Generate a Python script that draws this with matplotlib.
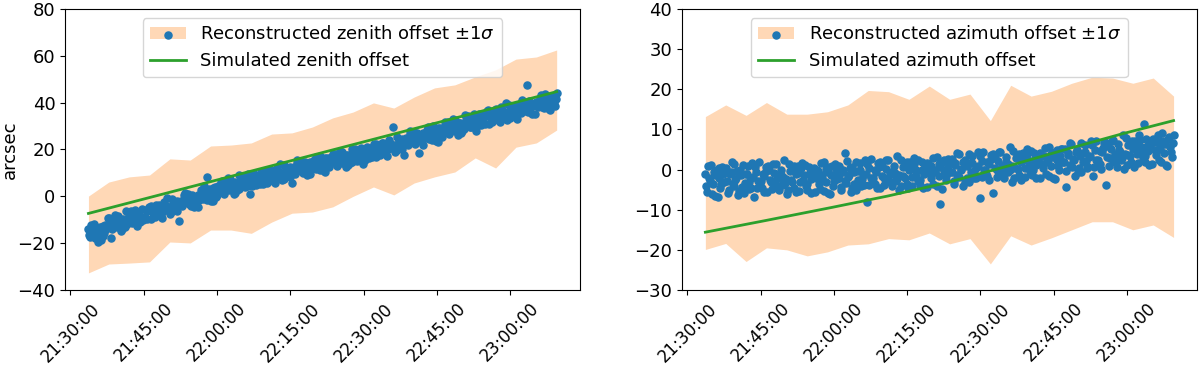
import numpy as np
import pandas as pd
import matplotlib
matplotlib.use('Agg')
import matplotlib.pyplot as plt
import matplotlib.dates as mdates

# observation window (same for both panels); two interleaved sets of exposures
t_start_a, t_end_a = '2019-01-01 21:33:42', '2019-01-01 23:09:32'
t_start_b, t_end_b = '2019-01-01 21:33:54', '2019-01-01 23:09:20'
n_pts = 250

# reconstructed zenith offset (arcsec), set a
zen_rec_a = [
    -13.8, -17.5, -14.6, -11.9, -16.0, -19.6, -13.0, -14.7, -16.8, -12.3,
    -12.1, -9.3, -18.0, -10.6, -8.0, -13.0, -11.7, -9.8, -14.1, -10.7,
    -6.1, -9.9, -7.9, -11.2, -8.9, -5.7, -12.8, -7.5, -9.4, -10.3,
    -8.7, -6.2, -4.4, -9.7, -5.0, -7.5, -3.8, -7.9, -6.6, -9.2,
    -3.7, -5.8, -0.6, -4.5, -6.9, -2.8, -5.0, -1.9, -10.5, -3.2,
    -4.3, 0.4, -2.0, 1.1, -2.9, -0.8, -4.7, -0.2, 0.6, -1.6,
    2.7, -1.0, 1.9, 8.3, 0.5, -1.9, 3.5, 1.8, -0.3, 4.2,
    3.6, 6.4, 1.2, 5.1, 7.7, 2.7, 4.0, 5.9, 1.6, 5.0,
    9.1, 5.3, 7.3, 4.0, 6.3, 9.5, 0.8, 7.7, 5.8, 4.9,
    6.1, 8.6, 10.4, 5.1, 9.8, 7.3, 11.0, 6.9, 8.2, 5.6,
    10.8, 8.7, 13.9, 10.0, 7.6, 11.7, 9.5, 12.6, 5.6, 11.3,
    9.7, 14.4, 12.0, 15.1, 11.1, 13.2, 9.3, 13.8, 14.6, 12.4,
    15.4, 11.7, 14.6, 17.3, 13.2, 10.8, 16.2, 14.5, 12.4, 16.9,
    15.2, 18.0, 12.8, 16.7, 19.3, 14.3, 15.6, 17.5, 13.2, 16.6,
    20.4, 16.6, 18.6, 15.3, 17.6, 20.8, 13.7, 19.0, 17.1, 16.2,
    17.9, 20.4, 22.2, 16.9, 21.6, 19.1, 22.8, 18.7, 20.0, 17.4,
    22.8, 20.7, 29.5, 22.0, 19.6, 23.7, 21.5, 24.6, 17.6, 23.3,
    22.0, 26.7, 24.3, 27.4, 23.4, 25.5, 18.6, 26.1, 26.9, 24.7,
    28.2, 24.5, 27.4, 30.1, 26.0, 23.6, 29.0, 27.3, 25.2, 29.7,
    28.9, 31.7, 26.5, 30.4, 33.0, 28.0, 29.3, 31.2, 26.9, 30.3,
    34.7, 30.9, 32.9, 29.6, 31.9, 35.1, 28.0, 33.3, 31.4, 30.5,
    32.1, 34.6, 36.4, 31.1, 35.8, 33.3, 37.0, 32.9, 34.2, 31.6,
    36.8, 34.7, 39.9, 36.0, 33.6, 37.7, 35.5, 38.6, 33.2, 37.3,
    35.5, 40.2, 37.8, 47.5, 36.9, 39.0, 35.1, 39.6, 40.4, 38.2,
    41.7, 38.0, 40.9, 43.6, 39.5, 37.1, 42.5, 40.8, 38.7, 44.3,
]

# reconstructed zenith offset (arcsec), set b
zen_rec_b = [
    -16.4, -12.2, -15.2, -17.9, -13.4, -14.1, -18.6, -12.7, -15.8, -13.9,
    -9.4, -11.9, -13.8, -10.2, -12.6, -8.3, -11.3, -14.8, -9.6, -13.2,
    -12.0, -8.0, -6.4, -9.7, -11.0, -8.7, -6.5, -10.9, -5.6, -9.5,
    -6.0, -9.7, -5.3, -4.1, -7.1, -9.0, -5.6, -3.7, -8.3, -6.8,
    -2.5, -4.1, -5.4, -7.7, -1.3, -4.8, -2.3, -6.3, -3.5, -1.8,
    -2.4, 1.5, -0.9, -3.2, -4.0, 0.7, -1.8, -0.6, -4.5, 0.1,
    0.1, 4.3, 1.3, -1.4, 3.1, 2.4, -2.1, 3.8, 0.7, 2.6,
    6.3, 3.8, 1.9, 5.5, 3.1, 7.4, 4.4, 0.9, 6.1, 2.5,
    3.2, 7.2, 8.8, 5.5, 4.2, 6.5, 8.7, 4.3, 9.6, 5.7,
    8.8, 5.1, 9.5, 10.7, 7.7, 5.8, 9.2, 11.1, 6.5, 8.0,
    12.0, 10.4, 9.1, 6.8, 13.2, 9.7, 12.2, 8.2, 11.0, 12.7,
    11.6, 15.5, 13.1, 10.8, 10.0, 14.7, 12.2, 13.4, 9.5, 14.1,
    12.8, 17.0, 14.0, 11.3, 15.8, 15.1, 10.6, 16.5, 13.4, 15.3,
    17.9, 15.4, 13.5, 17.1, 14.7, 19.0, 16.0, 12.5, 17.7, 14.1,
    14.5, 18.5, 20.1, 16.8, 15.5, 17.8, 20.0, 15.6, 20.9, 17.0,
    20.6, 16.9, 21.3, 22.5, 19.5, 17.6, 21.0, 22.9, 18.3, 19.8,
    24.0, 22.4, 21.1, 18.8, 25.2, 21.7, 24.2, 20.2, 23.0, 24.7,
    23.9, 27.8, 25.4, 23.1, 22.3, 27.0, 24.5, 25.7, 21.8, 26.4,
    25.6, 29.8, 26.8, 24.1, 28.6, 27.9, 23.4, 29.3, 26.2, 28.1,
    31.6, 29.1, 27.2, 30.8, 28.4, 32.7, 29.7, 26.2, 31.4, 27.8,
    28.8, 32.8, 34.4, 31.1, 29.8, 32.1, 34.3, 29.9, 35.2, 31.3,
    34.8, 31.1, 35.5, 36.7, 33.7, 31.8, 35.2, 37.1, 32.5, 34.0,
    38.0, 36.4, 35.1, 32.8, 39.2, 35.7, 38.2, 34.2, 37.0, 38.7,
    37.4, 41.3, 38.9, 36.6, 35.8, 40.5, 38.0, 39.2, 35.3, 39.9,
    39.1, 43.3, 40.3, 37.6, 42.1, 41.4, 36.9, 42.8, 39.7, 41.6,
]

# reconstructed azimuth offset (arcsec), set a
azi_rec_a = [
    -1.0, -5.5, -2.0, 1.2, -3.7, -6.6, -0.1, -2.1, -4.7, 0.7,
    -3.0, 0.3, -5.9, -1.2, 1.9, -4.1, -2.5, -0.3, -5.4, -1.3,
    1.2, -3.4, -1.0, -4.9, -2.2, 1.7, -6.9, -0.5, -2.8, -3.9,
    -4.5, -1.5, 0.7, -5.7, 0.0, -3.0, 1.4, -3.5, -2.0, -5.1,
    -1.4, -3.9, 2.3, -2.4, -5.2, -0.3, -3.0, 0.8, -5.7, -0.8,
    -5.4, 0.3, -2.6, 1.1, -3.7, -1.2, -5.8, -0.4, 0.5, -2.1,
    -0.3, -4.8, -1.3, 1.9, -3.0, -5.9, 0.6, -1.4, -4.0, 1.4,
    -2.3, 1.0, -5.2, -0.5, 4.1, -3.4, -1.8, 0.4, -4.7, -0.6,
    2.0, -2.6, -0.2, -4.1, -1.4, 2.5, -8.0, 0.3, -2.0, -3.1,
    -3.5, -0.5, 1.7, -4.7, 1.0, -2.0, 2.4, -2.5, -1.0, -4.1,
    -0.4, -2.9, 3.3, -1.4, -4.2, 0.7, -2.0, 1.8, -4.7, 0.2,
    -4.2, 1.5, -1.4, 2.3, -2.5, 0.0, -4.6, 0.8, 1.7, -0.9,
    1.0, -3.5, 0.0, 3.2, -1.7, -8.6, 1.9, -0.1, -2.7, 2.7,
    -0.7, 2.6, -3.6, 1.1, 4.2, -1.8, -0.2, 2.0, -3.1, 1.0,
    3.9, -0.7, 1.7, -2.2, 0.5, 4.4, -7.2, 2.2, -0.1, -1.2,
    -1.5, 1.5, 3.7, -5.8, 3.0, 0.0, 4.4, -0.5, 1.0, -2.1,
    1.8, -0.7, 5.5, 0.8, -2.0, 2.9, 0.2, 4.0, -2.5, 2.4,
    -1.8, 3.9, 1.0, 4.7, -0.1, 2.4, -2.2, 3.2, 4.1, 1.5,
    3.5, -1.0, 2.5, 5.7, 0.8, -2.1, 4.4, 2.4, -0.2, 5.2,
    1.8, 5.1, -4.3, 3.6, 6.7, 0.7, 2.3, 4.5, -0.6, 3.5,
    6.5, 1.9, 4.3, 0.4, 3.1, 7.0, -1.6, 4.8, 2.5, 1.4,
    1.3, 4.3, 6.5, -3.8, 5.8, 2.8, 7.2, 2.3, 3.8, 0.7,
    4.9, 2.4, 8.6, 3.9, 1.1, 6.0, 3.3, 7.1, 0.6, 5.5,
    1.6, 7.3, 4.4, 11.4, 3.3, 5.8, 1.2, 6.6, 7.5, 4.9,
    6.8, 2.3, 5.8, 9.0, 4.1, 1.2, 7.7, 5.7, 3.1, 8.5,
]

# reconstructed azimuth offset (arcsec), set b
azi_rec_b = [
    -4.2, 0.9, -2.7, -6.0, -0.6, -1.4, -6.8, 0.3, -3.5, -1.2,
    0.2, -2.8, -5.1, -0.7, -3.6, 1.5, -2.1, -6.3, 0.0, -4.3,
    -5.9, -1.1, 0.8, -3.1, -4.7, -1.9, 0.7, -4.6, 1.8, -2.9,
    -1.2, -5.7, -0.4, 1.0, -2.6, -4.8, -0.8, 1.5, -4.0, -2.2,
    0.0, -1.9, -3.4, -6.2, 1.5, -2.7, 0.3, -4.5, -1.2, 0.9,
    -3.1, 1.6, -1.3, -4.0, -5.0, 0.6, -2.4, -0.9, -5.6, -0.1,
    -3.5, 1.6, -2.0, -5.3, 0.1, -0.7, -6.1, 1.0, -2.8, -0.5,
    0.9, -2.1, -4.4, 0.0, -2.9, 2.2, -1.4, -5.6, 0.7, -3.6,
    -5.1, -0.3, 1.6, -2.3, -3.9, -1.1, 1.5, -3.8, 2.6, -2.1,
    -0.2, -4.7, 0.6, 2.0, -1.6, -3.8, 0.2, 2.5, -3.0, -1.2,
    1.0, -0.9, -2.4, -5.2, 2.5, -1.7, 1.3, -3.5, -0.2, 1.9,
    -1.9, 2.8, -0.1, -2.8, -3.8, 1.8, -1.2, 0.3, -4.4, 1.1,
    -2.2, 2.9, -0.7, -4.0, 1.4, 0.6, -4.8, 2.3, -1.5, 0.8,
    2.5, -0.5, -2.8, 1.6, -1.3, 3.8, 0.2, -4.0, 2.3, -2.0,
    -3.2, 1.6, 3.5, -0.4, -2.0, 0.8, 3.4, -1.9, 4.5, -0.2,
    1.8, -2.7, 2.6, 4.0, 0.4, -1.8, 2.2, 4.5, -1.0, 0.8,
    3.2, 1.3, -0.2, -3.0, 4.7, 0.5, 3.5, -1.3, 2.0, 4.1,
    0.5, 5.2, 2.3, -0.4, -1.4, 4.2, 1.2, 2.7, -2.0, 3.5,
    0.3, 5.4, 1.8, -1.5, 3.9, 3.1, -2.3, 4.8, 1.0, 3.3,
    5.0, 2.0, -0.3, 4.1, 1.2, 6.3, 2.7, -1.5, 4.8, 0.5,
    -0.6, 4.2, 6.1, 2.2, 0.6, 3.4, 6.0, 0.7, 7.1, 2.4,
    4.6, 0.1, 5.4, 6.8, 3.2, 1.0, 5.0, 7.3, 1.8, 3.6,
    6.3, 4.4, 2.9, 0.1, 7.8, 3.6, 6.6, 1.8, 5.1, 7.2,
    3.9, 8.6, 5.7, 3.0, 2.0, 7.6, 4.6, 6.1, 1.4, 6.9,
    3.6, 8.7, 5.1, 1.8, 7.2, 6.4, 1.0, 8.1, 4.3, 6.6,
]

# +-1 sigma band, 24 bins of 250 s
zen_hi = [0.1, 6.1, 8.3, 9.1, 16.0, 15.5, 21.5, 21.9, 22.8, 26.6, 27.1, 29.6,
          33.5, 36.0, 39.9, 37.7, 42.4, 46.3, 47.6, 51.0, 54.0, 58.6, 59.5, 62.5]
zen_lo = [-32.7, -28.9, -28.5, -28.0, -19.5, -19.9, -14.4, -14.4, -15.8, -11.0, -7.2, -6.7,
          -4.5, 0.0, 4.0, 0.6, 5.7, 8.3, 10.4, 16.4, 12.1, 21.0, 22.8, 28.3]
azi_hi = [13.2, 16.1, 13.5, 16.7, 13.8, 13.8, 14.4, 16.1, 19.7, 19.4, 17.5, 20.8,
          17.5, 18.8, 12.2, 21.0, 18.3, 19.5, 21.5, 23.0, 22.8, 21.5, 22.8, 18.3]
azi_lo = [-19.9, -18.4, -22.9, -19.5, -20.0, -21.5, -20.5, -18.8, -18.5, -17.2, -17.5, -15.8,
          -18.5, -17.2, -23.5, -16.5, -18.8, -17.0, -15.0, -13.0, -13.0, -15.0, -13.8, -16.9]

# simulated offsets
zen_sim_t = ['21:33:42', '22:21:37', '23:09:32']
zen_sim = [-7.3, 18.7, 44.7]
azi_sim_t = ['21:33:42', '21:46:00', '21:59:42', '22:11:00', '22:23:00',
             '22:36:00', '22:48:00', '22:59:00', '23:09:32']
azi_sim = [-15.6, -12.7, -9.4, -6.6, -3.3, 1.0, 5.2, 8.9, 12.2]

t_a = pd.date_range(t_start_a, t_end_a, periods=n_pts)
t_b = pd.date_range(t_start_b, t_end_b, periods=n_pts)
t_pts = t_a.append(t_b)
t_band = pd.date_range(t_start_a, periods=24, freq='250s')

plt.rcParams['font.size'] = 13
fig = plt.figure(figsize=(12, 3.67), dpi=100)
ax1 = fig.add_axes([0.0542, 0.2098, 0.4292, 0.7657])
ax2 = fig.add_axes([0.5683, 0.2098, 0.4292, 0.7657])


def panel(ax, rec, lo, hi, sim_t, sim, name, ylim, yticks):
    band = ax.fill_between(t_band, lo, hi, color='C1', alpha=0.3, linewidth=0)
    pts = ax.scatter(t_pts, rec, s=26, color='C0', zorder=3)
    st = pd.to_datetime(['2019-01-01 ' + s for s in sim_t])
    ln, = ax.plot(st, sim, color='C2', lw=2, zorder=4)
    ax.legend([(band, pts), ln],
              ['Reconstructed %s offset $\\pm1\\sigma$' % name,
               'Simulated %s offset' % name],
              loc='upper center', fontsize=13)
    ax.set_ylim(*ylim)
    ax.set_yticks(yticks)
    ax.xaxis.set_major_locator(mdates.MinuteLocator(byminute=[0, 15, 30, 45]))
    ax.xaxis.set_major_formatter(mdates.DateFormatter('%H:%M:%S'))
    ax.tick_params(axis='x', labelsize=12)
    for lab in ax.get_xticklabels():
        lab.set_rotation(45)


panel(ax1, zen_rec_a + zen_rec_b, zen_lo, zen_hi, zen_sim_t, zen_sim, 'zenith',
      (-40, 80), range(-40, 81, 20))
panel(ax2, azi_rec_a + azi_rec_b, azi_lo, azi_hi, azi_sim_t, azi_sim, 'azimuth',
      (-30, 40), range(-30, 41, 10))
ax1.set_ylabel('arcsec')
ax1.yaxis.set_label_coords(-0.089, 0.5)

fig.savefig('out.png', dpi=100)
